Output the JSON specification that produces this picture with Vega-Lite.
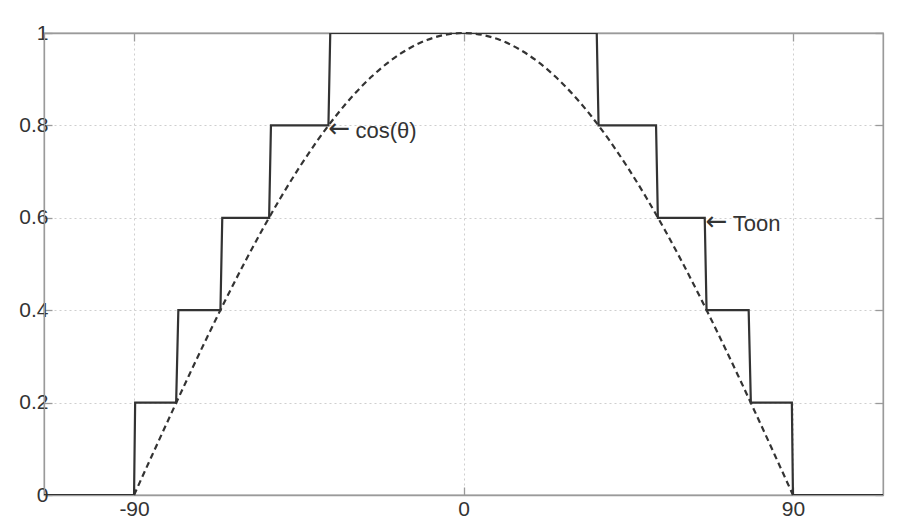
{
  "$schema": "https://vega.github.io/schema/vega-lite/v6.json",
  "width": 839,
  "height": 462,
  "autosize": {"type": "none"},
  "padding": {"left": 44, "top": 33, "right": 23, "bottom": 37},
  "background": "white",
  "config": {
    "view": {"stroke": "#9a9a9a", "strokeWidth": 1.3},
    "axis": {
      "labelFont": "Liberation Sans",
      "labelFontSize": 21,
      "labelColor": "#333333",
      "domainColor": "#9a9a9a",
      "domainWidth": 1.3,
      "tickColor": "#9a9a9a",
      "tickWidth": 1.3,
      "tickSize": -8,
      "gridColor": "#cfcfcf",
      "gridDash": [2, 3],
      "gridWidth": 1,
      "title": null
    }
  },
  "resolve": {"axis": {"x": "independent", "y": "independent"}},
  "layer": [
    {
      "data": {"values": [
        {"x": -114.6, "y": 0}, {"x": -90, "y": 0}, {"x": -89.7, "y": 0.2},
        {"x": -78.5, "y": 0.2}, {"x": -77.9, "y": 0.4},
        {"x": -66.4, "y": 0.4}, {"x": -65.9, "y": 0.6},
        {"x": -53.1, "y": 0.6}, {"x": -52.6, "y": 0.8},
        {"x": -36.9, "y": 0.8}, {"x": -36.4, "y": 1},
        {"x": 36.4, "y": 1}, {"x": 36.9, "y": 0.8},
        {"x": 52.6, "y": 0.8}, {"x": 53.1, "y": 0.6},
        {"x": 65.9, "y": 0.6}, {"x": 66.4, "y": 0.4},
        {"x": 77.9, "y": 0.4}, {"x": 78.5, "y": 0.2},
        {"x": 89.7, "y": 0.2}, {"x": 90, "y": 0}, {"x": 114.6, "y": 0}
      ]},
      "mark": {"type": "line", "color": "#333333", "strokeWidth": 2.2, "clip": true},
      "encoding": {
        "x": {"field": "x", "type": "quantitative", "scale": {"domain": [-114.6, 114.6], "nice": false, "zero": false},
              "axis": {"orient": "bottom", "values": [-90, 0, 90], "grid": true, "labelPadding": 11,
                       "labelExpr": "replace(datum.label, '\u2212', '-')"}},
        "y": {"field": "y", "type": "quantitative", "scale": {"domain": [0, 1], "nice": false},
              "axis": {"orient": "left", "values": [0, 0.2, 0.4, 0.6, 0.8, 1], "format": "~g", "grid": true, "labelPadding": 4}}
      }
    },
    {
      "data": {"values": [
        {"x": -90, "y": 0}, {"x": -85, "y": 0.0872}, {"x": -80, "y": 0.1736}, {"x": -75, "y": 0.2588},
        {"x": -70, "y": 0.342}, {"x": -65, "y": 0.4226}, {"x": -60, "y": 0.5}, {"x": -55, "y": 0.5736},
        {"x": -50, "y": 0.6428}, {"x": -45, "y": 0.7071}, {"x": -40, "y": 0.766}, {"x": -35, "y": 0.8192},
        {"x": -30, "y": 0.866}, {"x": -25, "y": 0.9063}, {"x": -20, "y": 0.9397}, {"x": -15, "y": 0.9659},
        {"x": -10, "y": 0.9848}, {"x": -5, "y": 0.9962}, {"x": 0, "y": 1},
        {"x": 5, "y": 0.9962}, {"x": 10, "y": 0.9848}, {"x": 15, "y": 0.9659}, {"x": 20, "y": 0.9397},
        {"x": 25, "y": 0.9063}, {"x": 30, "y": 0.866}, {"x": 35, "y": 0.8192}, {"x": 40, "y": 0.766},
        {"x": 45, "y": 0.7071}, {"x": 50, "y": 0.6428}, {"x": 55, "y": 0.5736}, {"x": 60, "y": 0.5},
        {"x": 65, "y": 0.4226}, {"x": 70, "y": 0.342}, {"x": 75, "y": 0.2588}, {"x": 80, "y": 0.1736},
        {"x": 85, "y": 0.0872}, {"x": 90, "y": 0}
      ]},
      "mark": {"type": "line", "color": "#333333", "strokeWidth": 2.2, "strokeDash": [6, 4], "interpolate": "monotone"},
      "encoding": {
        "x": {"field": "x", "type": "quantitative",
              "axis": {"orient": "top", "values": [-90, 0, 90], "labels": false, "grid": false}},
        "y": {"field": "y", "type": "quantitative",
              "axis": {"orient": "right", "values": [0, 0.2, 0.4, 0.6, 0.8, 1], "labels": false, "grid": false}}
      }
    },
    {
      "data": {"values": [
        {"x": -36.9, "y": 0.8, "arrow": "←"},
        {"x": 66.2, "y": 0.6, "arrow": "←"}
      ]},
      "mark": {"type": "text", "align": "left", "baseline": "middle", "font": "DejaVu Sans", "fontSize": 26, "color": "#333333", "dy": 4},
      "encoding": {
        "x": {"field": "x", "type": "quantitative", "axis": null},
        "y": {"field": "y", "type": "quantitative", "axis": null},
        "text": {"field": "arrow"}
      }
    },
    {
      "data": {"values": [
        {"x": -36.9, "y": 0.8, "label": "cos(θ)"},
        {"x": 66.2, "y": 0.6, "label": "Toon"}
      ]},
      "mark": {"type": "text", "align": "left", "baseline": "alphabetic", "font": "Liberation Sans", "fontSize": 22, "color": "#333333", "dy": 13, "dx": 27},
      "encoding": {
        "x": {"field": "x", "type": "quantitative", "axis": null},
        "y": {"field": "y", "type": "quantitative", "axis": null},
        "text": {"field": "label"}
      }
    }
  ]
}
